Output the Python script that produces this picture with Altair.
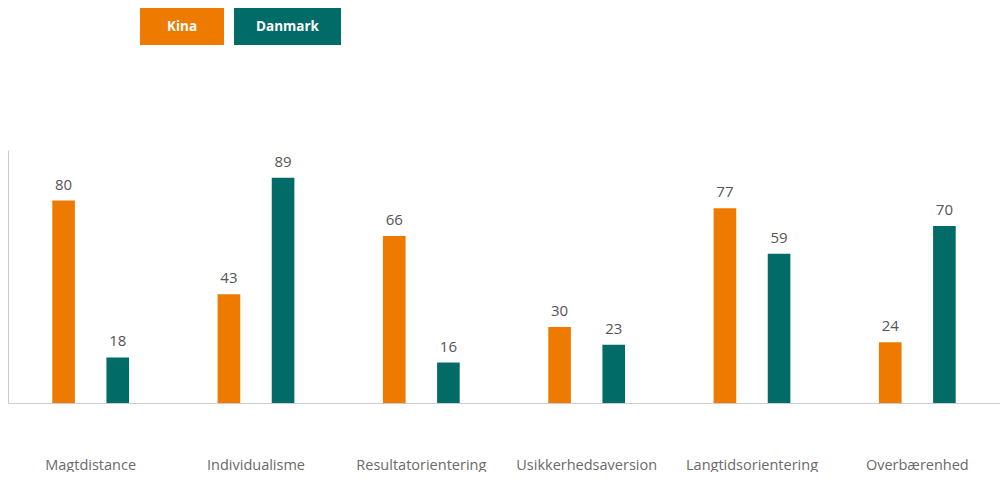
import altair as alt
import pandas as pd

categories = ["Magtdistance", "Individualisme", "Resultatorientering",
              "Usikkerhedsaversion", "Langtidsorientering", "Overbærenhed"]
series = ["Kina", "Danmark"]
kina = [80, 43, 66, 30, 77, 24]
danmark = [18, 89, 16, 23, 59, 70]
colors = ["#EE7A00", "#006B67"]

rows = []
for c, k, d in zip(categories, kina, danmark):
    rows.append({"kategori": c, "land": "Kina", "vaerdi": k})
    rows.append({"kategori": c, "land": "Danmark", "vaerdi": d})
df = pd.DataFrame(rows)

FONT = "Open Sans"

x = alt.X("kategori:N", sort=categories,
          scale=alt.Scale(paddingInner=0, paddingOuter=0),
          axis=alt.Axis(title=None, ticks=False, labelPadding=55, labelFontSize=14.5,
                        labelColor="#6a6a6a", labelFont=FONT, domainColor="#cccccc",
                        labelAngle=0))
xo = alt.XOffset("land:N", sort=series,
                 scale=alt.Scale(paddingInner=0.582, paddingOuter=0.818))
y = alt.Y("vaerdi:Q", scale=alt.Scale(domain=[0, 100]),
          axis=alt.Axis(title=None, labels=False, ticks=False, grid=False,
                        domainColor="#cccccc"))
color = alt.Color("land:N", scale=alt.Scale(domain=series, range=colors), legend=None)

base = alt.Chart(df).encode(x=x, xOffset=xo, y=y)
bars = base.mark_bar().encode(color=color)
labels = base.mark_text(baseline="bottom", dy=-8, fontSize=15, color="#555555",
                        font=FONT).encode(text="vaerdi:Q")

legend_df = pd.DataFrame({"land": series})
legend_pos = {"Kina": (132, 216), "Danmark": (226, 333)}
legend_layers = []
for s in series:
    x0, x1 = legend_pos[s]
    lc = alt.Chart(legend_df).transform_filter(alt.datum.land == s)
    legend_layers.append(
        lc.mark_rect().encode(x=alt.value(x0), x2=alt.value(x1),
                              y=alt.value(-142), y2=alt.value(-105), color=color))
    legend_layers.append(
        lc.mark_text(color="white", fontSize=13.5, fontWeight="bold", font=FONT,
                     baseline="middle", align="center").encode(
            x=alt.value((x0 + x1) / 2), y=alt.value(-123.5), text="land:N"))

chart = alt.layer(bars, labels, *legend_layers).properties(
    width=992, height=253,
    padding={"left": 0, "top": 0, "right": 0, "bottom": 0},
).configure_view(stroke=None)

chart.save("out.html", embed_options={"renderer": "svg", "actions": False})
